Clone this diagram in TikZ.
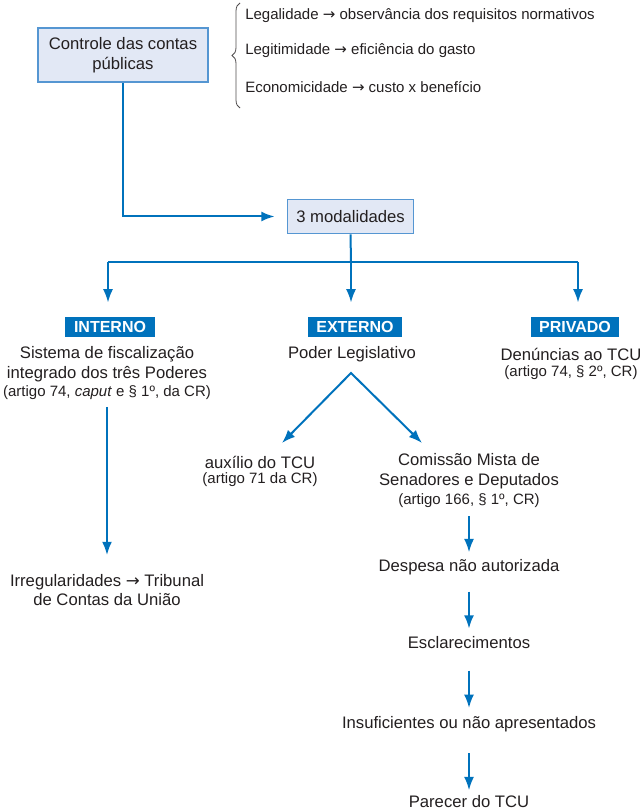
\documentclass[tikz,border=0pt]{standalone}
\usepackage{fontspec}
\setmainfont{Liberation Sans}
\newfontfamily\symfont{DejaVu Sans}
\usetikzlibrary{arrows.meta,decorations.pathreplacing}
\definecolor{tcublue}{RGB}{0,114,188}
\definecolor{boxfill}{RGB}{226,232,245}
\definecolor{boxline}{RGB}{85,150,210}
\definecolor{ink}{RGB}{35,31,32}
\newcommand{\mainsz}{\fontsize{12.5}{14.8}\selectfont}
\newcommand{\refsz}{\fontsize{11.25}{13}\selectfont}
\newcommand{\tagsz}{\fontsize{12}{14}\selectfont}
\newcommand{\toarrow}{{\symfont →}}
\begin{document}
\begin{tikzpicture}[x=0.75pt,y=-0.75pt,every node/.style={text=ink},
  arr/.style={-{Latex[length=10pt,width=7.5pt]},line width=1.5pt,draw=tcublue},
  blockbox/.style={draw=boxline,line width=0.8pt,fill=boxfill,align=center,font=\mainsz},
  tag/.style={fill=tcublue,text=white,font=\tagsz\bfseries,inner xsep=6.4pt,inner ysep=0pt,
    minimum height=14.25pt,text height=8.6pt,text depth=0pt},
  txt/.style={align=center,font=\mainsz,inner sep=1pt},
  ref/.style={align=center,font=\refsz,inner sep=1pt},
  side/.style={anchor=west,font=\refsz,inner sep=0pt},
  brace/.style={decorate,decoration={brace,amplitude=6pt},draw=ink!80,line width=0.6pt}]
  \useasboundingbox (0,0) rectangle (642,812);
  % top block
  \node[blockbox,minimum width=127.5pt,minimum height=40.5pt] (ctrl) at (123,55) {Controle das contas\\públicas};
  \coordinate (brbot) at (240,108);
  \coordinate (brtop) at (240,3);
  \draw[brace] (brbot) -- (brtop);
  \node[side] (legal) at (245,16) {Legalidade \toarrow\ observância dos requisitos normativos};
  \node[side] (legit) at (245,51) {Legitimidade \toarrow\ eficiência do gasto};
  \node[side] (econ) at (245,87) {Economicidade \toarrow\ custo x benefício};
  \node[blockbox,minimum width=95pt,minimum height=26pt] (modal) at (350.5,216.5) {3 modalidades};
  \draw[arr,shorten >=9pt] (ctrl.south) |- (modal.west);
  % three branches
  \node[tag] (interno) at (110,327) {INTERNO};
  \node[tag] (externo) at (355,327) {EXTERNO};
  \node[tag] (privado) at (575,327) {PRIVADO};
  \coordinate (bus) at (351,262);
  \coordinate (busL) at (108,262);
  \coordinate (busR) at (578,262);
  \draw[line width=1.5pt,tcublue] (modal.south) -- (bus);
  \draw[line width=1.5pt,tcublue] (busL) -- (busR);
  \foreach \c/\t in {busL/interno,bus/externo,busR/privado}
    \draw[arr,shorten >=11pt] (\c) -- (\c |- \t.north);
  % interno
  \node[txt] (sist) at (107,364) {Sistema de fiscalização\\integrado dos três Poderes};
  \node[ref] (sistref) at (107,393) {(artigo 74, \textit{caput} e § 1º, da CR)};
  \node[txt] (irreg) at (107,590) {Irregularidades \toarrow\ Tribunal\\de Contas da União};
  \draw[arr,shorten <=4pt,shorten >=13pt] (sistref) -- (irreg);
  % externo
  \node[txt] (poder) at (352,354) {Poder Legislativo};
  \coordinate (apex) at (351,373);
  \coordinate (tipL) at (282,443);
  \coordinate (tipR) at (422,443);
  \draw[arr,{Latex[length=10pt,width=7.5pt]}-{Latex[length=10pt,width=7.5pt]},line join=miter] (tipL) -- (apex) -- (tipR);
  \node[txt] (aux) at (260,462) {auxílio do TCU};
  \node[ref] (auxref) at (260,480) {(artigo 71 da CR)};
  \node[txt] (comis) at (469,471) {Comissão Mista de\\Senadores e Deputados};
  \node[ref] (comref) at (469,501) {(artigo 166, § 1º, CR)};
  \node[txt] (desp) at (469,567) {Despesa não autorizada};
  \node[txt] (escl) at (469,643) {Esclarecimentos};
  \node[txt] (insuf) at (469,724) {Insuficientes ou não apresentados};
  \node[txt] (parecer) at (469,802) {Parecer do TCU};
  \foreach \a/\b/\s/\e in {comref/desp/5/4,desp/escl/11.5/5,escl/insuf/15/5,insuf/parecer/15/3}
    \draw[arr,shorten <=\s pt,shorten >=\e pt] (\a) -- (\b);
  % privado
  \node[txt] (denun) at (571,354) {Denúncias ao TCU};
  \node[ref] (denref) at (571,373) {(artigo 74, § 2º, CR)};
\end{tikzpicture}
\end{document}
